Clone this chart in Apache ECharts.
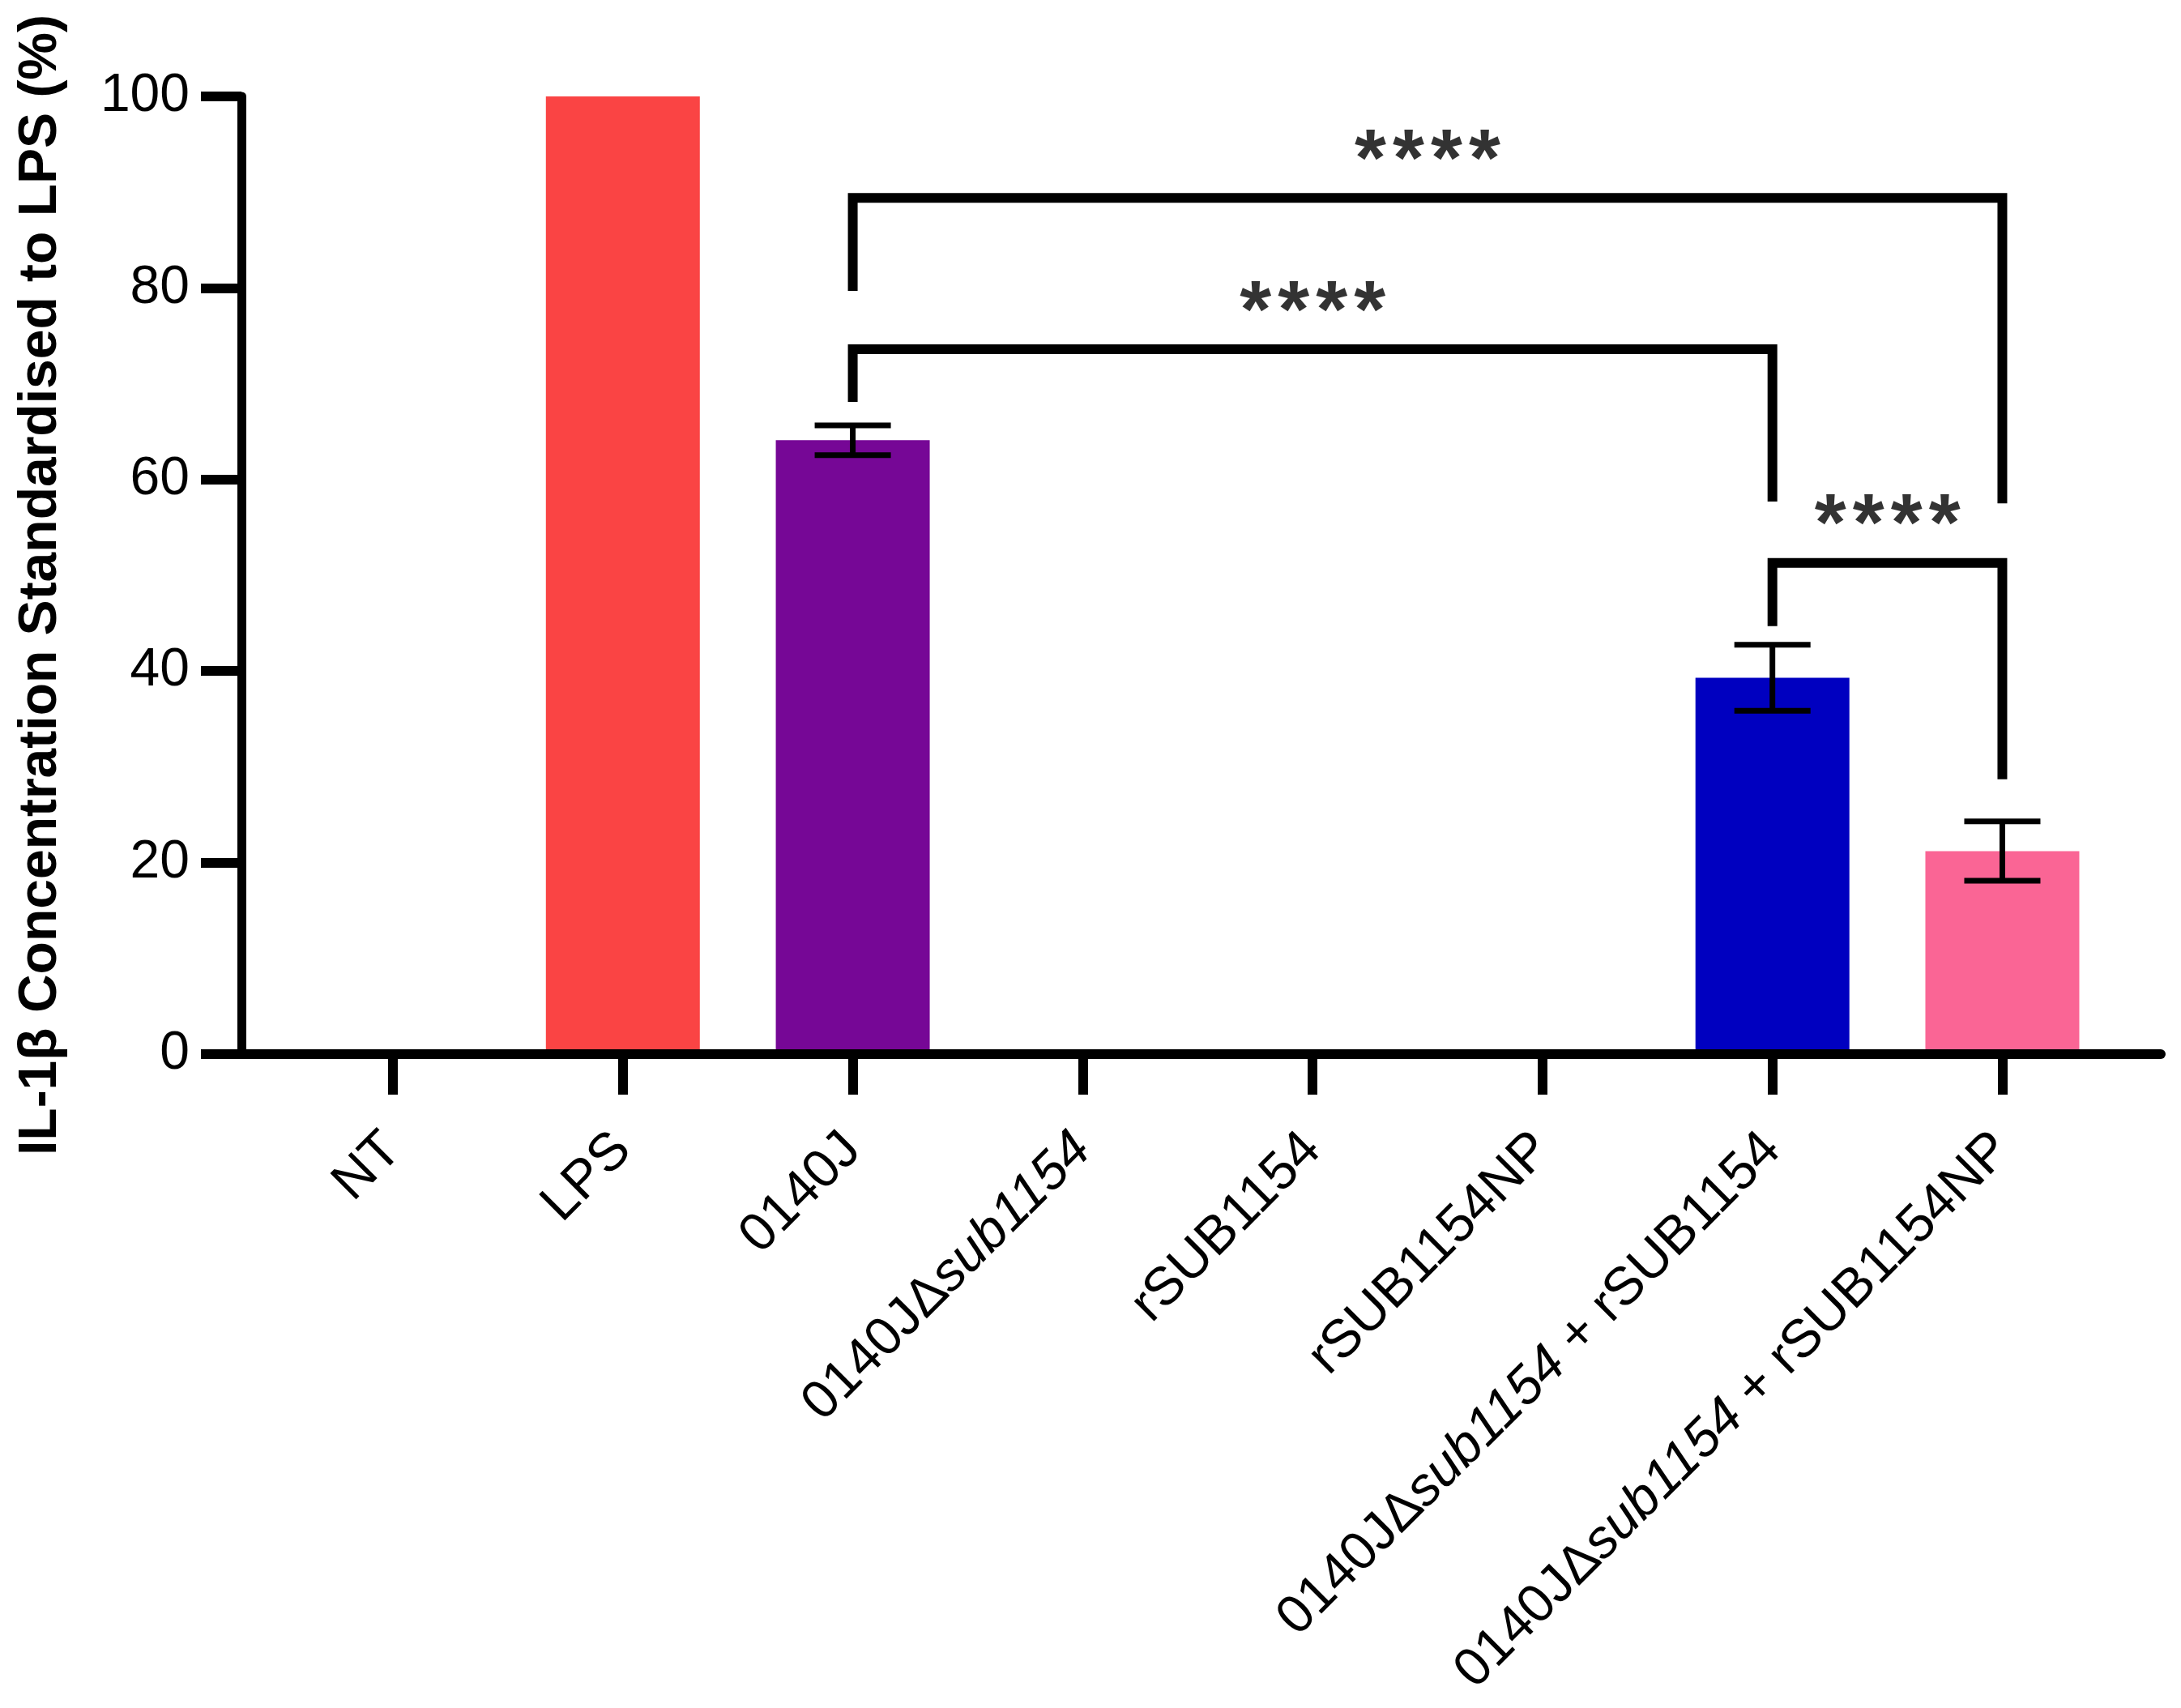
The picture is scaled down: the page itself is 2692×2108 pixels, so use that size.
<!DOCTYPE html>
<html>
<head>
<meta charset="utf-8">
<script src="https://cdn.jsdelivr.net/npm/echarts@6/dist/echarts.min.js"></script>
<style>
html,body{margin:0;padding:0;background:#fff;}
#chart{width:2692px;height:2108px;}
</style>
</head>
<body>
<div id="chart"></div>
<script>
// ---- data ----
const categories = ['NT', 'LPS', '0140J', '0140JΔsub1154', 'rSUB1154', 'rSUB1154NP',
  '0140JΔsub1154 + rSUB1154', '0140JΔsub1154 + rSUB1154NP'];
const means = [0, 100, 64.1, 0, 0, 0, 39.3, 21.2];
const errors = [0, 0, 1.55, 0, 0, 0, 3.45, 3.1];
const barColors = ['#000000', '#FA4444', '#760796', '#000000', '#000000', '#000000', '#0000C0', '#FA6595'];
const yTicks = [0, 20, 40, 60, 80, 100];
const bracketA = [[2, 79.7], [2, 89.4], [7, 89.4], [7, 57.5]];
const bracketB = [[2, 68.1], [2, 73.6], [6, 73.6], [6, 57.7]];
const bracketC = [[6, 44.7], [6, 51.3], [7, 51.3], [7, 28.7]];
const starMarks = [[4.5, 94.9], [4, 79.1], [6.5, 56.8]];
const starText = '****';
const yTitle = 'IL-1β Concentration Standardised to LPS (%)';

const FONT = 'Liberation Sans';
const LABEL_SIZE = 66;
const catIdx = categories.map((c, i) => i);

const chart = echarts.init(document.getElementById('chart'), null, {renderer: 'canvas'});

const bracketSeries = [bracketA, bracketB, bracketC].map(b => ({
  type: 'line',
  data: b,
  symbol: 'none',
  silent: true,
  z: 4,
  lineStyle: {color: '#000', width: 12, join: 'miter', cap: 'butt'},
  animation: false
}));

const option = {
  backgroundColor: '#fff',
  animation: false,
  grid: {left: 298, top: 119, right: 25, bottom: 807, containLabel: false},
  graphic: [{
    type: 'text',
    x: 51,
    y: 722,
    rotation: Math.PI / 2,
    style: {
      text: yTitle,
      fontSize: 66,
      fontWeight: 'bold',
      fontFamily: FONT,
      fill: '#000',
      textAlign: 'center',
      textVerticalAlign: 'middle'
    }
  }],
  xAxis: {
    type: 'value',
    min: -0.659,
    max: 7.689,
    z: 5,
    axisLine: {show: true, onZero: false, lineStyle: {color: '#000', width: 12}},
    axisTick: {show: true, customValues: catIdx, length: 50, lineStyle: {color: '#000', width: 12}},
    axisLabel: {
      show: true,
      customValues: catIdx,
      rotate: 45,
      margin: 108,
      align: 'right',
      verticalAlign: 'middle',
      fontSize: LABEL_SIZE,
      lineHeight: LABEL_SIZE,
      color: '#000',
      fontFamily: FONT,
      formatter: v => {
        const name = categories[Math.round(v)] || '';
        return name.replace('sub1154', '{i|sub1154}');
      },
      rich: {
        i: {fontStyle: 'italic', fontSize: LABEL_SIZE, lineHeight: LABEL_SIZE, fontFamily: FONT, color: '#000'}
      }
    },
    splitLine: {show: false}
  },
  yAxis: {
    type: 'value',
    min: 0,
    max: 100,
    interval: 20,
    z: 5,
    axisLine: {show: true, onZero: false, lineStyle: {color: '#000', width: 11}},
    axisTick: {show: true, length: 50, lineStyle: {color: '#000', width: 12}},
    axisLabel: {fontSize: LABEL_SIZE, color: '#000', margin: 64, fontFamily: FONT,
      customValues: yTicks},
    splitLine: {show: false}
  },
  series: [
    {
      type: 'bar',
      barWidth: 190,
      z: 2,
      data: means.map((m, i) => ({value: [i, m], itemStyle: {color: barColors[i]}}))
    },
    {
      type: 'custom',
      z: 3,
      encode: {x: 0, y: 1},
      data: means.map((m, i) => [i, m, errors[i]]),
      renderItem: function (params, api) {
        const x = api.value(0), m = api.value(1), e = api.value(2);
        if (!e) return null;
        const top = api.coord([x, m + e]);
        const bot = api.coord([x, m - e]);
        const half = 47;
        const st = {stroke: '#000', lineWidth: 7};
        return {
          type: 'group',
          children: [
            {type: 'line', shape: {x1: top[0], y1: top[1], x2: bot[0], y2: bot[1]}, style: st},
            {type: 'line', shape: {x1: top[0] - half, y1: top[1], x2: top[0] + half, y2: top[1]}, style: st},
            {type: 'line', shape: {x1: bot[0] - half, y1: bot[1], x2: bot[0] + half, y2: bot[1]}, style: st}
          ]
        };
      }
    },
    ...bracketSeries,
    {
      type: 'scatter',
      data: starMarks,
      symbolSize: 1,
      itemStyle: {color: 'rgba(0,0,0,0)'},
      silent: true,
      z: 6,
      label: {
        show: true,
        position: 'inside',
        offset: [0, 22],
        formatter: () => starText.split('').map(s => '{s|' + s + '}').join(''),
        rich: {
          s: {fontSize: 100, fontWeight: 'bold', fontFamily: FONT, color: '#000', width: 47, align: 'center'}
        }
      }
    }
  ]
};
chart.setOption(option);
</script>
</body>
</html>
